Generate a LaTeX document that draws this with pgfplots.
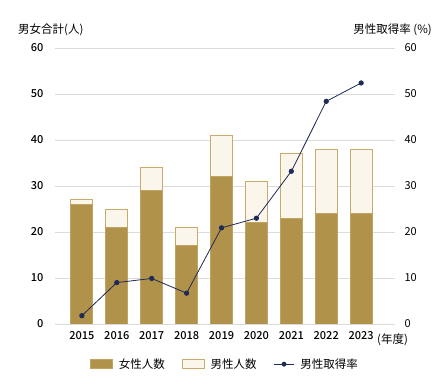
\documentclass[border=0pt]{standalone}
\usepackage{pgfplots}
\pgfplotsset{compat=1.18}
\usepackage{fontspec}
\setmainfont{Noto Sans CJK JP}
\newfontfamily\med{Noto Sans CJK JP}[UprightFont={* Medium}]
\definecolor{fem}{HTML}{B0924A}
\definecolor{femb}{HTML}{BFA463}
\definecolor{mal}{HTML}{FBF6EC}
\definecolor{malb}{HTML}{C9AA6A}
\definecolor{navy}{HTML}{1F2A56}
\definecolor{gridc}{HTML}{DCDCDC}
\begin{document}
\begin{tikzpicture}[font=\fontsize{11.5}{13}\selectfont]
\useasboundingbox (-55pt,-66pt) rectangle (393pt,324pt);
\begin{axis}[
  at={(0pt,0pt)}, anchor=south west,
  scale only axis, width=340pt, height=276pt,
  xmin=-0.77, xmax=8.97, ymin=0, ymax=60,
  ybar stacked, bar width=22pt,
  xtick={0,...,8},
  xticklabels={2015,2016,2017,2018,2019,2020,2021,2022,2023},
  ytick={0,10,...,60},
  axis line style={draw=none},
  major tick length=0pt,
  ymajorgrids, grid style={gridc, line width=0.8pt},
  /pgf/number format/assume math mode=true,
  yticklabel style={anchor=east, xshift=-8pt, font=\med\fontsize{11}{13}\selectfont},
  xticklabel style={yshift=-4pt, font=\med\fontsize{11}{13}\selectfont},
  legend style={at={(0.5,-0.11)}, anchor=north, draw=none, legend columns=3,
     font=\fontsize{11.5}{13}\selectfont,
     /tikz/every odd column/.append style={column sep=4pt},
     /tikz/every even column/.append style={column sep=15pt}},
  legend image code/.code={\draw[#1] (0pt,-4pt) rectangle (22pt,5pt);},
]
\addplot+[fill=fem, draw=femb, line width=0.8pt] coordinates {(0,26) (1,21) (2,29) (3,17) (4,32) (5,22) (6,23) (7,24) (8,24)};
\addlegendentry{女性人数}
\addplot+[fill=mal, draw=malb, line width=0.8pt] coordinates {(0,1) (1,4) (2,5) (3,4) (4,9) (5,9) (6,14) (7,14) (8,14)};
\addlegendentry{男性人数}
\addlegendimage{legend image code/.code={\draw[navy, line width=0.8pt] (0pt,0pt) -- (20pt,0pt); \fill[navy] (10pt,0pt) circle (2.2pt);}}
\addlegendentry{男性取得率}
\end{axis}
\begin{axis}[
  at={(0pt,0pt)}, anchor=south west,
  scale only axis, width=340pt, height=276pt,
  xmin=-0.77, xmax=8.97, ymin=0, ymax=60,
  axis y line*=right, axis x line=none,
  axis line style={draw=none},
  ytick={0,10,...,60},
  major tick length=0pt,
  /pgf/number format/assume math mode=true,
  yticklabel style={anchor=west, xshift=6pt, font=\fontsize{11}{13}\selectfont},
]
\addplot[navy, line width=0.8pt, mark=*, mark size=2.2pt] coordinates {(0,1.8) (1,9.0) (2,9.9) (3,6.7) (4,20.9) (5,23.0) (6,33.2) (7,48.4) (8,52.4)};
\end{axis}
\node[anchor=base west, inner sep=0pt] at (-37pt,290pt) {男女合計(人)};
\node[anchor=base east, inner sep=0pt] at (377pt,290pt) {男性取得率 (\%)};
\node[anchor=base west, inner sep=0pt] at (322pt,-20pt) {(年度)};
\end{tikzpicture}
\end{document}
